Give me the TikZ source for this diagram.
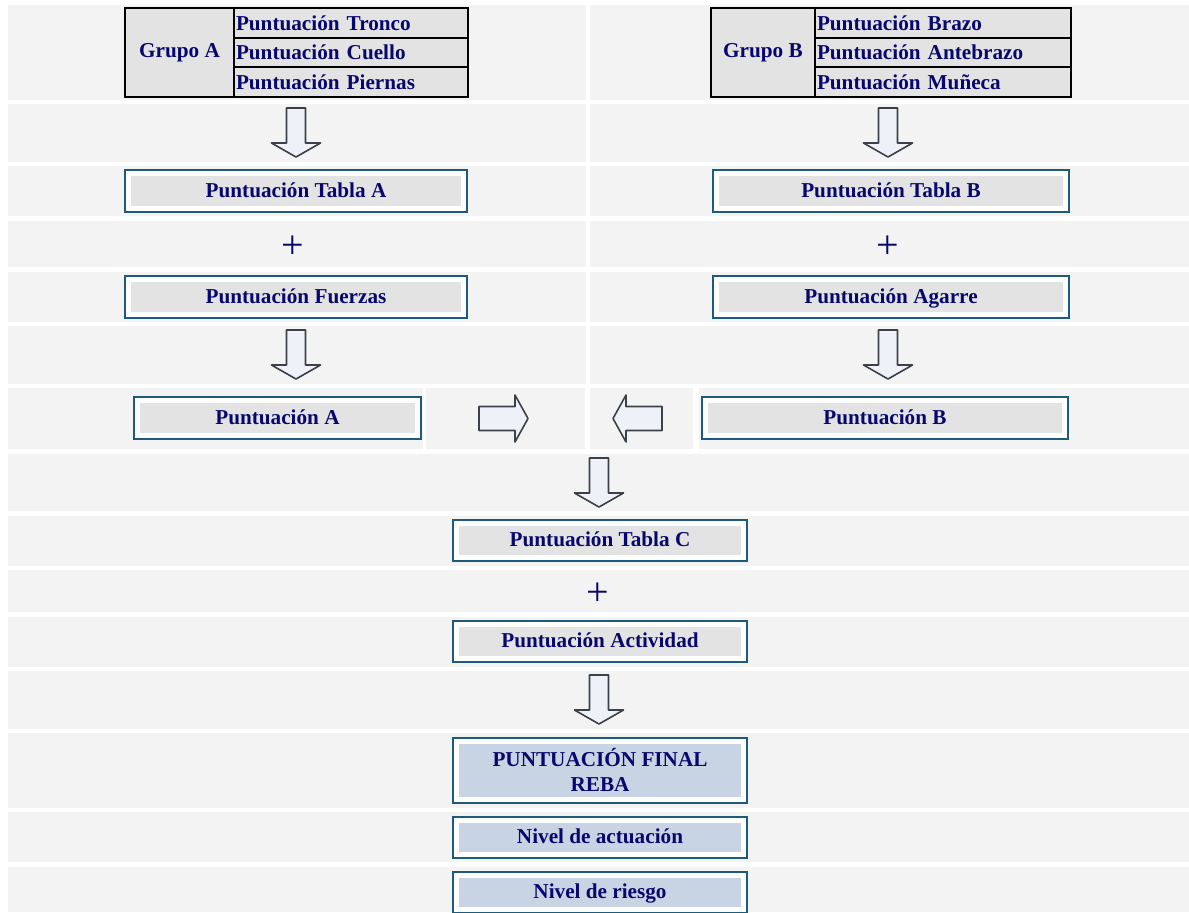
\documentclass[tikz,border=0pt]{standalone}
\usepackage{fontspec}
\setmainfont{Liberation Serif}
\definecolor{cellgrey}{HTML}{F3F3F3}
\definecolor{fillgrey}{HTML}{E3E3E3}
\definecolor{fillblue}{HTML}{C8D4E4}
\definecolor{boxline}{HTML}{1D5B7C}
\definecolor{textnavy}{HTML}{07076E}
\definecolor{arrowfill}{HTML}{EEF2F8}
\definecolor{arrowline}{HTML}{3B4148}

\begin{document}
\begin{tikzpicture}[x=0.5pt, y=-0.5pt,
      cell/.style={fill=cellgrey},
      scorebox/.style={draw=boxline, line width=1pt, fill=white, inner sep=0pt,
        minimum width=147pt, minimum height=20.5pt, align=center, text depth=0.1em,
        font=\fontsize{10.6}{12.5}\selectfont\bfseries, text=textnavy,
        path picture={\fill[#1] ([shift={(3pt,-3pt)}]path picture bounding box.north west)
          rectangle ([shift={(-3pt,3pt)}]path picture bounding box.south east);}},
      scorebox/.default=fillgrey,
      grupocell/.style={draw=black, line width=1pt, fill=fillgrey, inner sep=0pt,
        font=\fontsize{10.6}{12.5}\selectfont\bfseries, text=textnavy},
      filacell/.style={grupocell, inner xsep=1pt, align=left, minimum height=14.73pt},
      plus/.style={font=\fontsize{20}{22}\selectfont, text=textnavy, inner sep=0pt},
      flecha/.style={draw=arrowline, fill=arrowfill, line width=0.8pt, line join=round},
      flechaabajo/.pic={\draw[flecha] (-9.5,0) -- (9.5,0) -- (9.5,35) -- (24.5,35) -- (0,49)
        -- (-24.5,35) -- (-9.5,35) -- cycle;},
      flechader/.pic={\draw[flecha] (0,-12) -- (36,-12) -- (36,-23.5) -- (49,0)
        -- (36,23.5) -- (36,12) -- (0,12) -- cycle;}
      ]
      \useasboundingbox (0,0) rectangle (1189,912);
      \clip (0,0) rectangle (1189,912);
      \fill[white] (0,0) rectangle (1189,912);
      \fill[cell] (8,5) rectangle (586,100);
      \fill[cell] (590,5) rectangle (1189,100);
      \fill[cell] (8,104) rectangle (586,162);
      \fill[cell] (590,104) rectangle (1189,162);
      \fill[cell] (8,166) rectangle (586,216);
      \fill[cell] (590,166) rectangle (1189,216);
      \fill[cell] (8,221) rectangle (586,267);
      \fill[cell] (590,221) rectangle (1189,267);
      \fill[cell] (8,272) rectangle (586,322);
      \fill[cell] (590,272) rectangle (1189,322);
      \fill[cell] (8,326) rectangle (586,384);
      \fill[cell] (590,326) rectangle (1189,384);
      \fill[cell] (8,388) rectangle (423,449);
      \fill[cell] (426,388) rectangle (585,449);
      \fill[cell] (590,388) rectangle (693,449);
      \fill[cell] (699,388) rectangle (1189,449);
      \fill[cell] (8,454) rectangle (1189,511);
      \fill[cell] (8,516) rectangle (1189,566);
      \fill[cell] (8,570) rectangle (1189,612);
      \fill[cell] (8,617) rectangle (1189,667);
      \fill[cell] (8,671) rectangle (1189,729);
      \fill[cell] (8,733) rectangle (1189,808);
      \fill[cell] (8,812) rectangle (1189,862);
      \fill[cell] (8,867) rectangle (1189,912);

      \node[grupocell, minimum width=54.5pt, minimum height=44.2pt] (grupoA) at (179.5,52.5) {Grupo A};
      \node[filacell, text width=115pt] (tronco) at (351,23) {Puntuación Tronco};
      \node[filacell, text width=115pt] (cuello) at (351,52.5) {Puntuación Cuello};
      \node[filacell, text width=115pt] (piernas) at (351,82) {Puntuación Piernas};
      \node[grupocell, minimum width=52pt, minimum height=44.2pt] (grupoB) at (763,52.5) {Grupo B};
      \node[filacell, text width=126pt] (brazo) at (943,23) {Puntuación Brazo};
      \node[filacell, text width=126pt] (antebrazo) at (943,52.5) {Puntuación Antebrazo};
      \node[filacell, text width=126pt] (muneca) at (943,82) {Puntuación Muñeca};

      \pic at (296,108) {flechaabajo};
      \pic at (888,108) {flechaabajo};
      \node[scorebox, minimum width=171pt, minimum height=21pt] (tablaA) at (296,191) {Puntuación Tabla A};
      \node[scorebox, minimum width=178pt, minimum height=21pt] (tablaB) at (891,191) {Puntuación Tabla B};
      \node[plus] (masA) at (293,247) {+};
      \node[plus] (masB) at (888,247) {+};
      \node[scorebox, minimum width=171pt, minimum height=21pt] (fuerzas) at (296,297) {Puntuación Fuerzas};
      \node[scorebox, minimum width=178pt, minimum height=21pt] (agarre) at (891,297) {Puntuación Agarre};
      \pic at (296,330) {flechaabajo};
      \pic at (888,330) {flechaabajo};
      \node[scorebox, minimum width=143.5pt, minimum height=21pt] (puntA) at (277.5,418) {Puntuación A};
      \node[scorebox, minimum width=183pt, minimum height=21pt] (puntB) at (885,418) {Puntuación B};
      \pic at (479,418.5) {flechader};
      \pic[xscale=-1] at (662,418.5) {flechader};

      \pic at (599,458) {flechaabajo};
      \node[scorebox] (tablaC) at (600,540.5) {Puntuación Tabla C};
      \node[plus] (masC) at (598,594) {+};
      \node[scorebox] (actividad) at (600,641.5) {Puntuación Actividad};
      \pic at (599,675) {flechaabajo};
      \node[scorebox=fillblue, minimum height=32.5pt] (final) at (600,770.5) {PUNTUACIÓN FINAL\\REBA};
      \node[scorebox=fillblue] (actuacion) at (600,837.5) {Nivel de actuación};
      \node[scorebox=fillblue] (riesgo) at (600,892.5) {Nivel de riesgo};
    \end{tikzpicture}
\end{document}
